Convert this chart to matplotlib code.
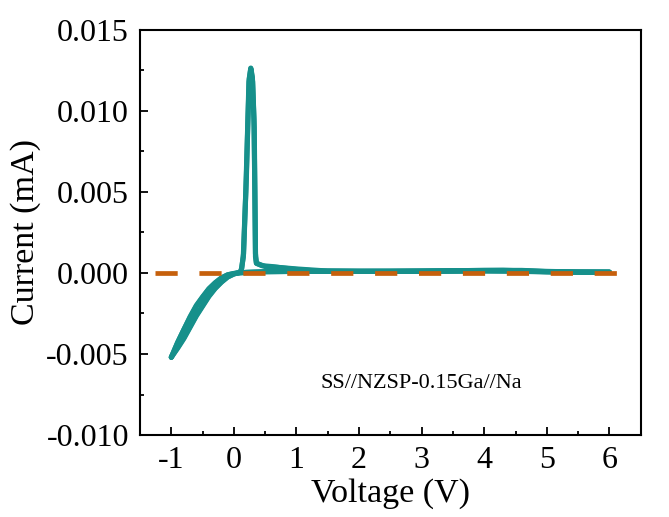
import matplotlib
matplotlib.use("Agg")
import matplotlib.pyplot as plt
from matplotlib.ticker import MultipleLocator, FormatStrFormatter

plt.rcParams['font.family'] = ['Liberation Serif', 'DejaVu Serif']
plt.rcParams['axes.unicode_minus'] = False

# Cycle 1: reverse scan (6 V -> -1 V), then forward scan (-1 V -> 6 V)
rev1_v = [6.0, 5.5, 5.0, 4.5, 4.0, 3.0, 2.0, 1.0, 0.5, 0.3, 0.1, 0.0, -0.1, -0.2, -0.3,
          -0.4, -0.5, -0.6, -0.7, -0.8, -0.9, -1.0]
rev1_i = [0.00005, 0.00005, 0.00008, 0.00012, 0.00012, 0.0001, 0.0001, 0.0001, 0.00008,
          0.00005, 0.00002, -0.00003, -0.00011, -0.0003, -0.0006, -0.00097, -0.00147,
          -0.002, -0.0027, -0.0035, -0.0043, -0.0052]
fwd1_v = [-1.0, -0.9, -0.8, -0.7, -0.6, -0.5, -0.4, -0.3, -0.2, -0.1, 0.0, 0.1, 0.12,
          0.15, 0.19, 0.22, 0.24, 0.27, 0.30, 0.325, 0.34, 0.345, 0.36, 0.45, 0.6,
          0.8, 1.0, 1.3, 2.0, 3.0, 4.0, 4.6, 5.0, 5.5, 6.0]
fwd1_i = [-0.0052, -0.0046, -0.004, -0.0033, -0.0026, -0.002, -0.0014, -0.00093,
          -0.00055, -0.00024, -0.00006, 0.00004, 0.0002, 0.001, 0.005, 0.009, 0.0118,
          0.01262, 0.0118, 0.009, 0.003, 0.001, 0.0006, 0.00045, 0.0004,
          0.0003, 0.00022, 0.00013, 0.0001, 0.00012, 0.00016, 0.00016, 0.0001, 0.00006,
          0.00005]

# Cycle 2 (slightly different)
rev2_v = [6.0, 5.0, 4.0, 3.0, 2.0, 1.0, 0.5, 0.2, 0.0, -0.1, -0.2, -0.3, -0.4, -0.5,
          -0.6, -0.7, -0.8, -0.9, -1.0]
rev2_i = [0.00005, 0.00007, 0.00014, 0.00011, 0.0001, 0.0001, 0.00008, 0.00004,
          -0.00003, -0.00012, -0.00032, -0.00063, -0.001, -0.0015, -0.00205, -0.00275,
          -0.0035, -0.0043, -0.0052]
fwd2_v = [-1.0, -0.9, -0.8, -0.7, -0.6, -0.5, -0.4, -0.3, -0.2, -0.1, 0.0, 0.1, 0.125,
          0.155, 0.2, 0.225, 0.245, 0.27, 0.295, 0.32, 0.335, 0.345, 0.36, 0.5,
          0.7, 1.0, 1.5, 2.5, 3.5, 4.3, 4.7, 5.2, 6.0]
fwd2_i = [-0.0052, -0.00465, -0.00405, -0.00335, -0.00265, -0.00205, -0.00145, -0.00096,
          -0.00057, -0.00025, -0.00006, 0.00005, 0.0003, 0.0012, 0.006, 0.0095, 0.012,
          0.01265, 0.0121, 0.0095, 0.005, 0.0012, 0.0006, 0.0004,
          0.00035, 0.00025, 0.00012, 0.0001, 0.00014, 0.00017, 0.00012, 0.00006, 0.00005]

ref_v = [-1.26, 6.46]
ref_i = [0.0, 0.0]

label_text = "SS//NZSP-0.15Ga//Na"
xticks = [-1, 0, 1, 2, 3, 4, 5, 6]
yticks = [-0.010, -0.005, 0.0, 0.005, 0.010, 0.015]

teal = "#16908b"
orange = "#c6600c"

fig = plt.figure(figsize=(6.69, 5.17), dpi=100)
ax = fig.add_axes([0.2093, 0.1586, 0.7484, 0.7834])

for v, i in [(rev1_v, rev1_i), (fwd1_v, fwd1_i), (rev2_v, rev2_i), (fwd2_v, fwd2_i)]:
    ax.plot(v, i, color=teal, lw=3.7, solid_capstyle='round', solid_joinstyle='round', zorder=2)

ax.plot(ref_v, ref_i, color=orange, lw=3.4, dashes=(4.7, 4.6), zorder=3, solid_capstyle='butt')

ax.text(3.0, -0.0068, label_text, fontsize=16, ha='center', va='center')

ax.set_xlim(-1.5, 6.5)
ax.set_ylim(-0.010, 0.015)
ax.set_xticks(xticks)
ax.set_yticks(yticks)
ax.yaxis.set_major_formatter(FormatStrFormatter('%.3f'))
ax.xaxis.set_minor_locator(MultipleLocator(0.5))
ax.yaxis.set_minor_locator(MultipleLocator(0.0025))
ax.tick_params(which='both', direction='in', top=False, right=False, labelsize=23, width=1.3)
ax.tick_params(which='major', length=6, pad=8)
ax.tick_params(which='minor', length=3)
for s in ax.spines.values():
    s.set_linewidth(1.5)

ax.set_xlabel("Voltage (V)", fontsize=24.5, labelpad=2)
ax.set_ylabel("Current (mA)", fontsize=24.5, labelpad=4)

fig.savefig("out.png", dpi=100)
